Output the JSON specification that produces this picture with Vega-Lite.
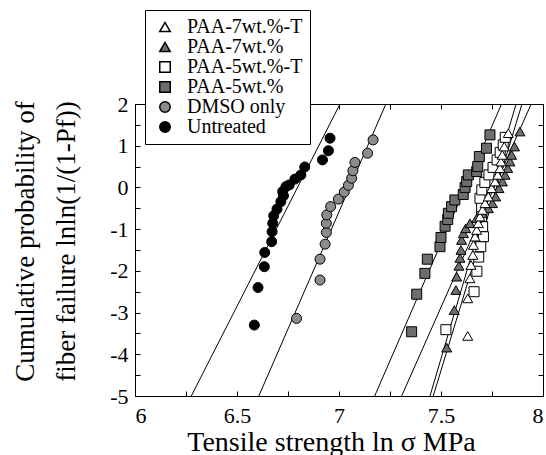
{
  "$schema": "https://vega.github.io/schema/vega-lite/v6.json",
  "width": 408,
  "height": 292,
  "autosize": "none",
  "padding": {"left": 135, "top": 104, "right": 3, "bottom": 59},
  "background": "white",
  "config": {
    "view": {"stroke": "black", "strokeWidth": 1},
    "font": "Liberation Serif",
    "axis": {
      "domainColor": "black", "tickColor": "black", "labelColor": "black", "titleColor": "black",
      "labelFont": "Liberation Serif", "titleFont": "Liberation Serif",
      "labelFontSize": 22, "titleFontSize": 27, "titleFontWeight": "normal",
      "grid": false, "tickSize": -5, "domainWidth": 1, "tickWidth": 1
    },
    "legend": {
      "labelFont": "Liberation Serif", "labelFontSize": 20, "labelColor": "black"
    }
  },
  "datasets": {
    "fits": [
      {"series": "Untreated", "x": 6.276, "y": -5}, {"series": "Untreated", "x": 7.005, "y": 2},
      {"series": "DMSO only", "x": 6.607, "y": -5}, {"series": "DMSO only", "x": 7.23, "y": 2},
      {"series": "PAA-5wt.%", "x": 7.175, "y": -5}, {"series": "PAA-5wt.%", "x": 7.797, "y": 2},
      {"series": "PAA-7wt.%", "x": 7.307, "y": -5}, {"series": "PAA-7wt.%", "x": 7.942, "y": 2},
      {"series": "PAA-7wt.%-T", "x": 7.446, "y": -5}, {"series": "PAA-7wt.%-T", "x": 7.868, "y": 2},
      {"series": "PAA-5wt.%-T", "x": 7.462, "y": -5}, {"series": "PAA-5wt.%-T", "x": 7.897, "y": 2}
    ],
    "pts": [
      {"series": "Untreated", "x": 6.585, "y": -3.30},
      {"series": "Untreated", "x": 6.603, "y": -2.40},
      {"series": "Untreated", "x": 6.634, "y": -1.90},
      {"series": "Untreated", "x": 6.636, "y": -1.56},
      {"series": "Untreated", "x": 6.670, "y": -1.30},
      {"series": "Untreated", "x": 6.672, "y": -1.06},
      {"series": "Untreated", "x": 6.675, "y": -0.86},
      {"series": "Untreated", "x": 6.680, "y": -0.68},
      {"series": "Untreated", "x": 6.696, "y": -0.52},
      {"series": "Untreated", "x": 6.715, "y": -0.34},
      {"series": "Untreated", "x": 6.728, "y": -0.20},
      {"series": "Untreated", "x": 6.724, "y": -0.10},
      {"series": "Untreated", "x": 6.740, "y": 0.02},
      {"series": "Untreated", "x": 6.756, "y": 0.06},
      {"series": "Untreated", "x": 6.784, "y": 0.20},
      {"series": "Untreated", "x": 6.813, "y": 0.30},
      {"series": "Untreated", "x": 6.832, "y": 0.49},
      {"series": "Untreated", "x": 6.919, "y": 0.66},
      {"series": "Untreated", "x": 6.948, "y": 0.88},
      {"series": "Untreated", "x": 6.956, "y": 1.18},
      {"series": "DMSO only", "x": 6.792, "y": -3.14},
      {"series": "DMSO only", "x": 6.907, "y": -2.22},
      {"series": "DMSO only", "x": 6.907, "y": -1.72},
      {"series": "DMSO only", "x": 6.932, "y": -1.36},
      {"series": "DMSO only", "x": 6.938, "y": -1.08},
      {"series": "DMSO only", "x": 6.938, "y": -0.86},
      {"series": "DMSO only", "x": 6.940, "y": -0.66},
      {"series": "DMSO only", "x": 6.959, "y": -0.46},
      {"series": "DMSO only", "x": 6.997, "y": -0.28},
      {"series": "DMSO only", "x": 7.026, "y": -0.11},
      {"series": "DMSO only", "x": 7.046, "y": 0.05},
      {"series": "DMSO only", "x": 7.062, "y": 0.22},
      {"series": "DMSO only", "x": 7.068, "y": 0.40},
      {"series": "DMSO only", "x": 7.078, "y": 0.60},
      {"series": "DMSO only", "x": 7.140, "y": 0.82},
      {"series": "DMSO only", "x": 7.167, "y": 1.14},
      {"series": "PAA-5wt.%", "x": 7.356, "y": -3.46},
      {"series": "PAA-5wt.%", "x": 7.381, "y": -2.56},
      {"series": "PAA-5wt.%", "x": 7.421, "y": -2.06},
      {"series": "PAA-5wt.%", "x": 7.433, "y": -1.72},
      {"series": "PAA-5wt.%", "x": 7.495, "y": -1.42},
      {"series": "PAA-5wt.%", "x": 7.500, "y": -1.20},
      {"series": "PAA-5wt.%", "x": 7.520, "y": -0.93},
      {"series": "PAA-5wt.%", "x": 7.533, "y": -0.77},
      {"series": "PAA-5wt.%", "x": 7.536, "y": -0.62},
      {"series": "PAA-5wt.%", "x": 7.552, "y": -0.46},
      {"series": "PAA-5wt.%", "x": 7.568, "y": -0.30},
      {"series": "PAA-5wt.%", "x": 7.609, "y": -0.17},
      {"series": "PAA-5wt.%", "x": 7.618, "y": 0.00},
      {"series": "PAA-5wt.%", "x": 7.626, "y": 0.14},
      {"series": "PAA-5wt.%", "x": 7.634, "y": 0.30},
      {"series": "PAA-5wt.%", "x": 7.675, "y": 0.38},
      {"series": "PAA-5wt.%", "x": 7.680, "y": 0.50},
      {"series": "PAA-5wt.%", "x": 7.688, "y": 0.74},
      {"series": "PAA-5wt.%", "x": 7.723, "y": 0.94},
      {"series": "PAA-5wt.%", "x": 7.740, "y": 1.26},
      {"series": "PAA-5wt.%-T", "x": 7.524, "y": -3.41},
      {"series": "PAA-5wt.%-T", "x": 7.662, "y": -2.50},
      {"series": "PAA-5wt.%-T", "x": 7.676, "y": -2.01},
      {"series": "PAA-5wt.%-T", "x": 7.685, "y": -1.67},
      {"series": "PAA-5wt.%-T", "x": 7.695, "y": -1.42},
      {"series": "PAA-5wt.%-T", "x": 7.708, "y": -1.18},
      {"series": "PAA-5wt.%-T", "x": 7.704, "y": -0.94},
      {"series": "PAA-5wt.%-T", "x": 7.699, "y": -0.70},
      {"series": "PAA-5wt.%-T", "x": 7.699, "y": -0.46},
      {"series": "PAA-5wt.%-T", "x": 7.691, "y": -0.26},
      {"series": "PAA-5wt.%-T", "x": 7.700, "y": -0.06},
      {"series": "PAA-5wt.%-T", "x": 7.715, "y": 0.12},
      {"series": "PAA-5wt.%-T", "x": 7.735, "y": 0.30},
      {"series": "PAA-5wt.%-T", "x": 7.755, "y": 0.48},
      {"series": "PAA-5wt.%-T", "x": 7.775, "y": 0.66},
      {"series": "PAA-5wt.%-T", "x": 7.790, "y": 0.84},
      {"series": "PAA-5wt.%-T", "x": 7.805, "y": 1.02},
      {"series": "PAA-5wt.%-T", "x": 7.815, "y": 1.20},
      {"series": "PAA-7wt.%", "x": 7.528, "y": -3.84},
      {"series": "PAA-7wt.%", "x": 7.565, "y": -2.94},
      {"series": "PAA-7wt.%", "x": 7.573, "y": -2.46},
      {"series": "PAA-7wt.%", "x": 7.577, "y": -2.14},
      {"series": "PAA-7wt.%", "x": 7.588, "y": -1.88},
      {"series": "PAA-7wt.%", "x": 7.593, "y": -1.69},
      {"series": "PAA-7wt.%", "x": 7.598, "y": -1.50},
      {"series": "PAA-7wt.%", "x": 7.601, "y": -1.26},
      {"series": "PAA-7wt.%", "x": 7.610, "y": -1.10},
      {"series": "PAA-7wt.%", "x": 7.621, "y": -0.98},
      {"series": "PAA-7wt.%", "x": 7.642, "y": -0.86},
      {"series": "PAA-7wt.%", "x": 7.675, "y": -0.74},
      {"series": "PAA-7wt.%", "x": 7.703, "y": -0.62},
      {"series": "PAA-7wt.%", "x": 7.732, "y": -0.50},
      {"series": "PAA-7wt.%", "x": 7.752, "y": -0.38},
      {"series": "PAA-7wt.%", "x": 7.768, "y": -0.22},
      {"series": "PAA-7wt.%", "x": 7.784, "y": -0.02},
      {"series": "PAA-7wt.%", "x": 7.801, "y": 0.14},
      {"series": "PAA-7wt.%", "x": 7.814, "y": 0.30},
      {"series": "PAA-7wt.%", "x": 7.827, "y": 0.46},
      {"series": "PAA-7wt.%", "x": 7.838, "y": 0.62},
      {"series": "PAA-7wt.%", "x": 7.846, "y": 0.78},
      {"series": "PAA-7wt.%", "x": 7.860, "y": 0.98},
      {"series": "PAA-7wt.%", "x": 7.887, "y": 1.34},
      {"series": "PAA-7wt.%-T", "x": 7.631, "y": -3.56},
      {"series": "PAA-7wt.%-T", "x": 7.631, "y": -2.66},
      {"series": "PAA-7wt.%-T", "x": 7.642, "y": -2.18},
      {"series": "PAA-7wt.%-T", "x": 7.647, "y": -1.86},
      {"series": "PAA-7wt.%-T", "x": 7.656, "y": -1.62},
      {"series": "PAA-7wt.%-T", "x": 7.659, "y": -1.38},
      {"series": "PAA-7wt.%-T", "x": 7.667, "y": -1.18},
      {"series": "PAA-7wt.%-T", "x": 7.675, "y": -1.02},
      {"series": "PAA-7wt.%-T", "x": 7.683, "y": -0.86},
      {"series": "PAA-7wt.%-T", "x": 7.691, "y": -0.70},
      {"series": "PAA-7wt.%-T", "x": 7.703, "y": -0.54},
      {"series": "PAA-7wt.%-T", "x": 7.716, "y": -0.38},
      {"series": "PAA-7wt.%-T", "x": 7.732, "y": -0.22},
      {"series": "PAA-7wt.%-T", "x": 7.748, "y": -0.02},
      {"series": "PAA-7wt.%-T", "x": 7.765, "y": 0.14},
      {"series": "PAA-7wt.%-T", "x": 7.778, "y": 0.30},
      {"series": "PAA-7wt.%-T", "x": 7.789, "y": 0.46},
      {"series": "PAA-7wt.%-T", "x": 7.794, "y": 0.62},
      {"series": "PAA-7wt.%-T", "x": 7.800, "y": 0.78},
      {"series": "PAA-7wt.%-T", "x": 7.810, "y": 0.98},
      {"series": "PAA-7wt.%-T", "x": 7.830, "y": 1.30}
    ]
  },
  "layer": [
    {
      "data": {"name": "fits"},
      "mark": {"type": "line", "stroke": "black", "strokeWidth": 1, "clip": true},
      "encoding": {
        "x": {"field": "x", "type": "quantitative", "scale": {"domain": [6, 8], "nice": false},
          "axis": {"orient": "top", "labels": false, "title": null,
            "values": [6, 6.25, 6.5, 6.75, 7, 7.25, 7.5, 7.75, 8]}},
        "y": {"field": "y", "type": "quantitative", "scale": {"domain": [-5, 2], "nice": false},
          "axis": {"orient": "right", "labels": false, "title": null,
            "values": [-5, -4.5, -4, -3.5, -3, -2.5, -2, -1.5, -1, -0.5, 0, 0.5, 1, 1.5, 2]}},
        "detail": {"field": "series"}
      }
    },
    {
      "data": {"name": "pts"},
      "mark": {"type": "point", "filled": true, "stroke": "black", "strokeWidth": 1, "size": 100, "opacity": 1},
      "encoding": {
        "x": {"field": "x", "type": "quantitative", "scale": {"domain": [6, 8], "nice": false},
          "axis": {"orient": "bottom",
            "values": [6, 6.25, 6.5, 6.75, 7, 7.25, 7.5, 7.75, 8],
            "labelExpr": "datum.value % 0.5 === 0 ? toString(datum.value) : ''",
            "labelPadding": 14,
            "title": "Tensile strength ln σ MPa",
            "titleFontSize": 28,
            "titleX": 196, "titleY": 54, "titleBaseline": "alphabetic", "titleAnchor": "middle"}},
        "y": {"field": "y", "type": "quantitative", "scale": {"domain": [-5, 2], "nice": false},
          "axis": {"orient": "left",
            "values": [-5, -4.5, -4, -3.5, -3, -2.5, -2, -1.5, -1, -0.5, 0, 0.5, 1, 1.5, 2],
            "labelExpr": "datum.value % 1 === 0 ? toString(datum.value) : ''",
            "labelPadding": 12,
            "title": ["Cumulative probability of", "fiber failure lnln(1/(1-Pf))"],
            "titleX": -123, "titleY": 137, "titleBaseline": "top", "titleAlign": "center", "titleAngle": -90,
            "titleLineHeight": 41}},
        "fill": {"field": "series", "type": "nominal",
          "scale": {"domain": ["PAA-7wt.%-T", "PAA-7wt.%", "PAA-5wt.%-T", "PAA-5wt.%", "DMSO only", "Untreated"],
            "range": ["white", "#6e6e6e", "white", "#6e6e6e", "#8c8c8c", "black"]},
          "legend": {"orient": "none", "legendX": 10, "legendY": -94, "title": null,
            "fillColor": "white", "strokeColor": "black", "padding": 7,
            "symbolSize": 110, "labelFontSize": 20,
            "rowPadding": -1, "labelOffset": 12, "symbolOffset": 3,
            "encode": {"symbols": {"update": {"stroke": {"value": "black"}, "strokeWidth": {"value": 1}}}}}},
        "shape": {"field": "series", "type": "nominal",
          "scale": {"domain": ["PAA-7wt.%-T", "PAA-7wt.%", "PAA-5wt.%-T", "PAA-5wt.%", "DMSO only", "Untreated"],
            "range": ["triangle-up", "triangle-up", "square", "square", "circle", "circle"]},
          "legend": {"orient": "none", "legendX": 10, "legendY": -94, "title": null,
            "fillColor": "white", "strokeColor": "black", "padding": 7,
            "symbolSize": 110, "labelFontSize": 20,
            "rowPadding": -1, "labelOffset": 12, "symbolOffset": 3,
            "encode": {"symbols": {"update": {"stroke": {"value": "black"}, "strokeWidth": {"value": 1}}}}}}
      }
    }
  ],
  "resolve": {"axis": {"x": "independent", "y": "independent"}}
}
